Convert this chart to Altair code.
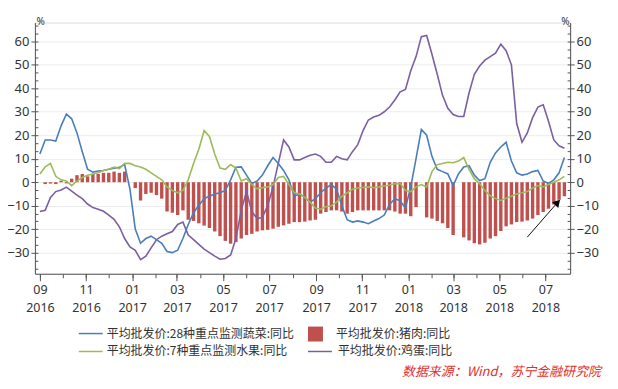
import altair as alt
import pandas as pd

# ---------------- data (weekly) ----------------
start_date = "2016-09-01"
n_weeks = 100

veg = [12, 18, 18, 17.5, 24, 29, 27, 21, 13, 5.5,
       4.3, 4.8, 5, 5.5, 6, 6.4, 7.5, -3, -20, -26,
       -24, -23, -24.5, -26, -29.5, -30, -29, -24, -18, -13,
       -9.8, -7, -6, -5, -4.5, -3.5, 1, 6.4, 6.5, 3,
       -0.5, 0.5, 3, 7, 10.5, 8, 5, 1, -6, -5,
       -6.5, -8.5, -7, -4.5, -2.5, -1, -3, -10, -16, -17,
       -16.5, -17, -17.7, -16.5, -15.5, -14, -9.5, -7, -8, -11,
       -2, 10, 22.5, 20, 11, 5.5, 4.5, 3.5, -1.4, 3.5,
       6.5, 7, 3, 0.7, 1.5, 8.5, 12.5, 15, 17, 9,
       4, 3, 3.5, 4.5, 5, 0.5, -0.5, 1, 4, 10.5]

egg = [-12.5, -12, -6.5, -4, -3.3, -2.1, -3.8, -5.5, -7, -9.3,
       -10.8, -11.5, -12.4, -14, -15.8, -19, -24, -27.6, -29, -33,
       -31.5, -28, -24.5, -23, -22, -21, -18, -17, -22.5, -24.5,
       -26.5, -28.5, -30, -31.5, -32.8, -32.5, -31, -24, -12, -4,
       -12.5, -15.5, -15, -10, -2, 8, 18, 15, 9.5, 9.5,
       10.5, 11.5, 12, 11, 8.5, 8.5, 11, 10, 9.5, 13,
       16, 22, 26.5, 27.8, 28.5, 30, 32, 35, 38.5, 39.5,
       47.5, 53.5, 62, 62.5, 54.5, 46, 37, 31.5, 28.8, 28,
       28, 38, 46, 49.5, 52, 53.5, 55, 58.8, 56, 50,
       25, 17, 21, 27.5, 32, 33, 26, 18, 15.5, 14.5]

fruit = [3.5, 6.5, 8, 2.5, 1, 0.5, -1.5, 0.5, 2, 3,
         3.5, 4, 5, 5.5, 6.4, 5.8, 8, 8, 7, 6.5,
         5.5, 4, 2.5, 1, -2, -3.5, -4.5, -3.5, 1, 8,
         14, 22, 19.5, 12, 6, 5.5, 7.5, 6, 0.5, 1.5,
         -1, -2.8, -2.3, -2, -1, 2, 2.5, -1, -4.5, -5,
         -6.5, -8.5, -11, -11.5, -10.5, -10, -8.5, -6, -4.5, -3,
         -2.5, -2.2, -2, -2.3, -2, -1.6, -1.2, -0.7, -0.5, -3.5,
         -4, -2, -1, -2, 4.5, 7.5, 8, 8.5, 8.3, 9,
         10.5, 5.5, 1.5, -0.7, -3.5, -5.8, -7, -7.8, -6.8, -6,
         -5, -4.5, -4, -2.5, -1.4, -2, -1, 0, 1, 2.5]

pork = [None, -0.8, -0.6, -0.8, 0.6, -0.5, 1.5, 3, 3.5, 2.5,
        3.5, 3.5, 4, 4, 4.5, 4, 4.5, None, -2.5, -7.8,
        -5, -4.5, -5.5, -7, -12.5, -13, -14, -12, -16, -16.5,
        -17.5, -18.5, -19.5, -21, -23, -25, -26.2, -25.5, -24, -22.5,
        -22, -21, -20.5, -20.3, -19.8, -19, -18.4, -17.7, -17, -17,
        -16.8, -16.3, -16, -13.4, -12.7, -12, -12, -12.5, -13.4, -12.7,
        -12, -12, -12, -12, -12, -12, -12, -12.5, -13.4, -13.4,
        -14.5, -10.6, None, -15, -15.5, -16.5, -17.5, -19.5, -22.5, None,
        -23.5, -24.8, -26, -26.5, -25.8, -24, -23, -20.8, -18.8, -18,
        -17, -16.8, -16.3, -15.5, -14, -12.7, -11.3, -9.5, -7.5, -6]

veg_name = "平均批发价:28种重点监测蔬菜:同比"
pork_name = "平均批发价:猪肉:同比"
fruit_name = "平均批发价:7种重点监测水果:同比"
egg_name = "平均批发价:鸡蛋:同比"

source_text = "数据来源：Wind，苏宁金融研究院"

# arrow annotation (data coordinates)
arrow_tail_date, arrow_tail_value = "2018-06-07", -23.4
arrow_head_date, arrow_head_value = "2018-07-16", -9.0

# ---------------- styling ----------------
BLUE = "#4a7ebb"
GREEN = "#9bbb59"
PURPLE = "#7b5fa0"
RED = "#c0504d"
AXIS = "#555555"
TXT = "#333333"
CJK = "Noto Sans CJK SC"
LATIN = "Noto Sans"

dates = pd.date_range(start_date, periods=n_weeks, freq="7D")

def frame(vals, name):
    return pd.DataFrame({"date": dates, "value": vals, "series": name})

xscale = alt.Scale(domain=[alt.DateTime(year=2016, month=9, date=1),
                           alt.DateTime(year=2018, month=7, date=27)])
yscale = alt.Scale(domain=[-39, 68], nice=False, zero=False)

major_dates = [alt.DateTime(year=y, month=m, date=1)
               for (y, m) in [(2016, 9), (2016, 11), (2017, 1), (2017, 3), (2017, 5), (2017, 7),
                              (2017, 9), (2017, 11), (2018, 1), (2018, 3), (2018, 5), (2018, 7)]]
minor_dates = [alt.DateTime(year=2016 + (8 + k) // 12, month=(8 + k) % 12 + 1, date=1)
               for k in range(23)]
major_y = list(range(-30, 61, 10))
minor_y = [round(k * 10 / 3, 3) for k in range(-11, 21)]

x_major = alt.Axis(orient="bottom", values=major_dates, tickSize=7, grid=False, title=None,
                   labelExpr="[timeFormat(datum.value, '%m'), timeFormat(datum.value, '%Y')]",
                   labelFont=LATIN, labelFontSize=12.5, labelColor=TXT, labelLineHeight=17.5,
                   labelPadding=3, labelFlush=False, labelOverlap=False,
                   domainColor=AXIS, tickColor=AXIS)
x_minor = alt.Axis(orient="bottom", values=minor_dates, tickSize=4, labels=False, domain=False,
                   grid=False, title=None, tickColor=AXIS)

def y_major(orient):
    return alt.Axis(orient=orient, values=major_y, tickSize=4, grid=(orient == "left"),
                    gridColor="#ececec", title="%", titleAngle=0,
                    titleX=(1 if orient == "left" else -1), titleY=4,
                    titleAlign=("left" if orient == "left" else "right"),
                    titleBaseline="bottom", titleFontSize=10, titleFontWeight="normal",
                    titleFont=LATIN, titleColor=TXT,
                    labelFont=LATIN, labelFontSize=13, labelColor=TXT, labelPadding=2,
                    domainColor=AXIS, tickColor=AXIS)

def y_minor(orient):
    return alt.Axis(orient=orient, values=minor_y, tickSize=3, offset=-3, labels=False,
                    domain=False, grid=False, title=None, tickColor=AXIS)

def legend(x, y, stype, ssize, offset):
    return alt.Legend(title=None, orient="none", legendX=x, legendY=y, symbolType=stype,
                      symbolSize=ssize, symbolStrokeWidth=1.5, labelOffset=offset,
                      labelFont=CJK, labelFontSize=12, labelColor=TXT, padding=0,
                      labelLimit=400)

bars = alt.Chart(frame(pork, pork_name)).mark_bar(size=3.4).encode(
    x=alt.X("date:T", scale=xscale, axis=x_major),
    y=alt.Y("value:Q", scale=yscale, axis=y_major("left")),
    y2=alt.datum(0),
    color=alt.Color("series:N", scale=alt.Scale(domain=[pork_name], range=[RED]),
                    legend=legend(273, 304, "square", 225, 12)),
)

egg_line = alt.Chart(frame(egg, egg_name)).mark_line(strokeWidth=1.6).encode(
    x=alt.X("date:T", scale=xscale, axis=x_minor),
    y=alt.Y("value:Q", scale=yscale, axis=y_major("right")),
    color=alt.Color("series:N", scale=alt.Scale(domain=[egg_name], range=[PURPLE]),
                    legend=legend(273, 317, "stroke", 576, 5)),
)

veg_line = alt.Chart(frame(veg, veg_name)).mark_line(strokeWidth=1.6).encode(
    x=alt.X("date:T", scale=xscale, axis=None),
    y=alt.Y("value:Q", scale=yscale, axis=y_minor("left")),
    color=alt.Color("series:N", scale=alt.Scale(domain=[veg_name], range=[BLUE]),
                    legend=legend(43, 299, "stroke", 576, 3)),
)

fruit_line = alt.Chart(frame(fruit, fruit_name)).mark_line(strokeWidth=1.6).encode(
    x=alt.X("date:T", scale=xscale, axis=None),
    y=alt.Y("value:Q", scale=yscale, axis=y_minor("right")),
    color=alt.Color("series:N", scale=alt.Scale(domain=[fruit_name], range=[GREEN]),
                    legend=legend(43, 317, "stroke", 576, 3)),
)

arrow_df = pd.DataFrame({"d0": [pd.Timestamp(arrow_tail_date)], "v0": [arrow_tail_value],
                         "d1": [pd.Timestamp(arrow_head_date)], "v1": [arrow_head_value]})
arrow_line = alt.Chart(arrow_df).mark_rule(color="#111111", strokeWidth=1).encode(
    x=alt.X("d0:T", scale=xscale, axis=None), x2="d1:T",
    y=alt.Y("v0:Q", scale=yscale, axis=None), y2="v1:Q",
)
arrow_head = alt.Chart(arrow_df).mark_point(shape="triangle", filled=True, size=70,
                                            angle=42, color="#000000", opacity=1).encode(
    x=alt.X("d1:T", scale=xscale, axis=None),
    y=alt.Y("v1:Q", scale=yscale, axis=None),
)

source = alt.Chart(pd.DataFrame({"t": [source_text]})).mark_text(
    align="right", baseline="middle", font=CJK, fontSize=13, fontStyle="italic",
    color="#e0302a").encode(text="t:N", x=alt.value(568), y=alt.value(351))

chart = alt.layer(bars, egg_line, veg_line, fruit_line, arrow_line, arrow_head, source).resolve_scale(
    color="independent").resolve_axis(x="independent", y="independent").properties(
    width=537, height=252,
    autosize=alt.AutoSizeParams(type="none"),
    padding={"left": 27, "top": 14, "right": 40, "bottom": 110},
).configure_view(stroke=None).configure(font=LATIN, background="white")

chart.save("out.html", embed_options={"renderer": "svg", "actions": False})
